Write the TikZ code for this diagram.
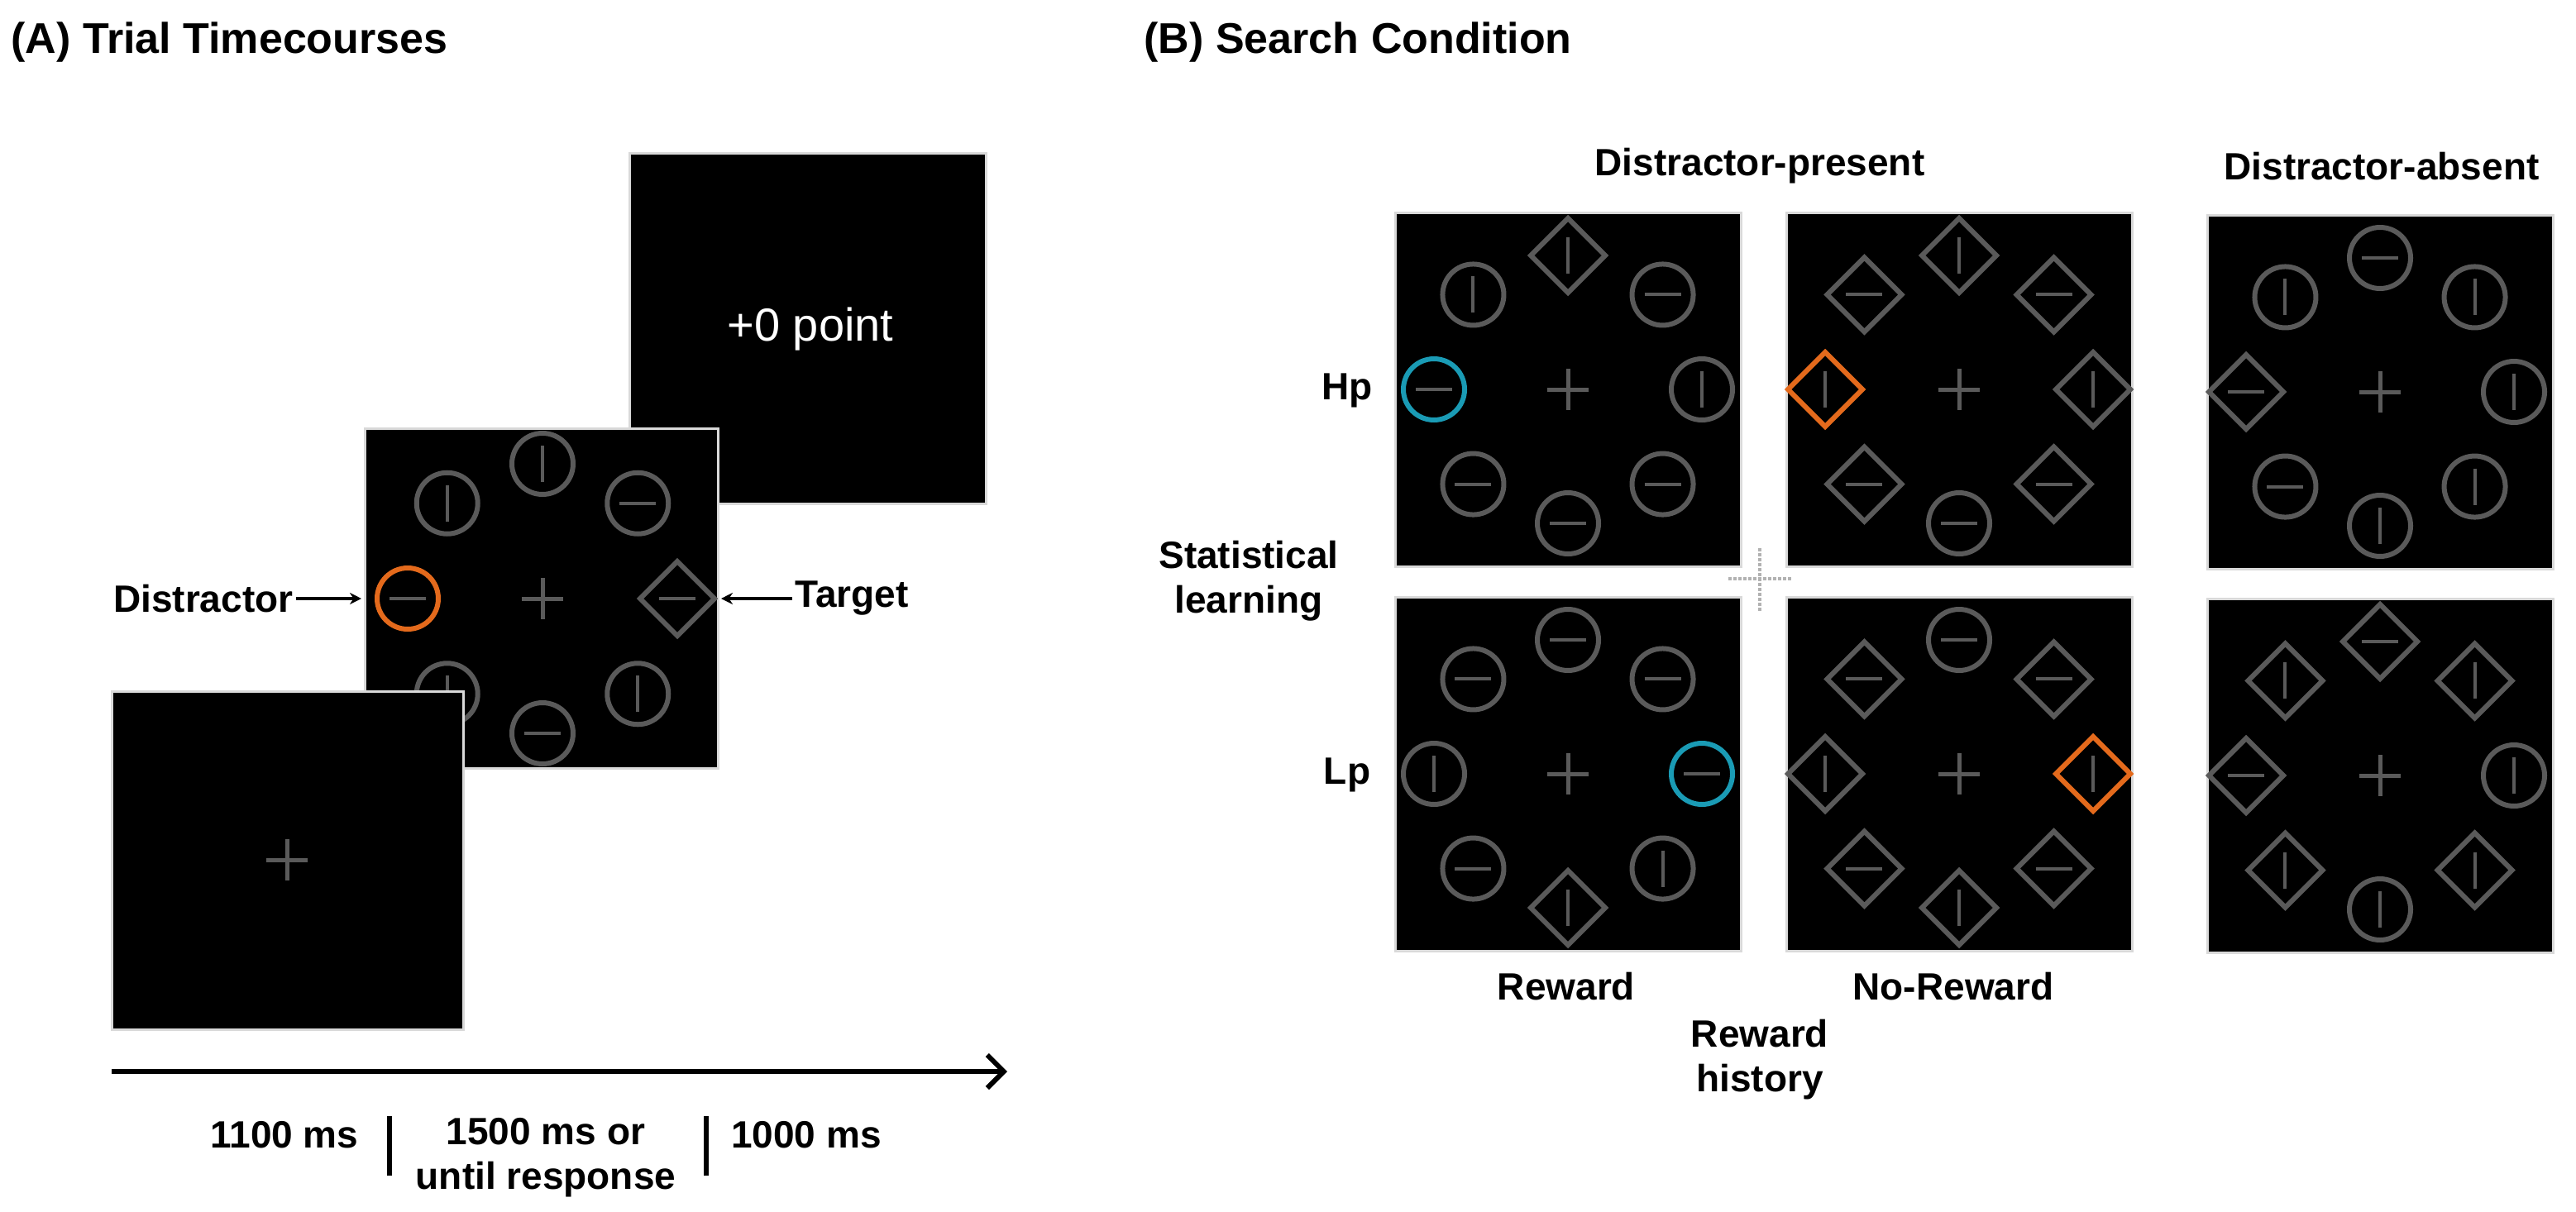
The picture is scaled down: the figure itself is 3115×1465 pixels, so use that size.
\documentclass[tikz,border=0pt]{standalone}
\usepackage{fontspec}
\setmainfont{Liberation Sans}
\usetikzlibrary{arrows.meta}
\definecolor{stimgray}{HTML}{5A5A5A}
\definecolor{dorange}{HTML}{E46A1C}
\definecolor{dcyan}{HTML}{1A9BB5}
\tikzset{
  screen/.style={fill=black,draw=white!85!black,line width=3pt},
  stim/.style={line width=6pt},
  lab/.style={font=\fontsize{46}{54}\selectfont\bfseries,text=black},
  ttl/.style={font=\fontsize{52}{60}\selectfont\bfseries,anchor=west},
  fix/.style={stimgray,line width=5pt},
  axis/.style={line width=6pt,-{Straight Barb[length=20pt,width=40pt,line width=6pt]}},
  tick/.style={line width=6pt},
  pointer/.style={line width=4pt,-{Stealth[length=14pt,width=14pt]}}
}
% #1 radius, #2 cx, #3 cy, #4 list of shape/orient/colour in order T,TR,R,BR,B,BL,L,TL
\newcommand\stimpanel[4][162]{%
  \draw[fix] (#2-25,#3)--(#2+25,#3) (#2,#3-25)--(#2,#3+25);
  \foreach \s/\o/\c [count=\i from 0] in {#4}{
    \pgfmathsetmacro\ang{90-45*\i}
    \pgfmathsetmacro\px{#2+#1*cos(\ang)}
    \pgfmathsetmacro\py{#3-#1*sin(\ang)}
    \if c\s
      \draw[stim,\c] (\px,\py) circle (37);
    \else
      \draw[stim,\c] (\px-45,\py)--(\px,\py-45)--(\px+45,\py)--(\px,\py+45)--cycle;
    \fi
    \if h\o
      \draw[stimgray,line width=4pt] (\px-22,\py)--(\px+22,\py);
    \else
      \draw[stimgray,line width=4pt] (\px,\py-22)--(\px,\py+22);
    \fi
  }%
}
\begin{document}
\begin{tikzpicture}[x=1pt,y=-1pt]
\useasboundingbox (0,0) rectangle (3115,1465);
% ---------- (A)
\node[ttl] (ta) at (10,51) {(A) Trial Timecourses};
\draw[screen] (761,185) rectangle (1192,609);
\node[text=white,font=\fontsize{56}{64}\selectfont] (pt) at (980,398) {+0 point};
\draw[screen] (441,518) rectangle (868,929);
\stimpanel[163]{656}{724}{c/v/stimgray,c/h/stimgray,d/h/stimgray,c/v/stimgray,c/h/stimgray,c/v/stimgray,c/h/dorange,c/v/stimgray}
\coordinate (dist) at (437,724);
\coordinate (targ) at (872,724);
\draw[screen] (135,836) rectangle (560,1245);
\draw[fix] (322,1040)--(372,1040) (347,1015)--(347,1065);
\node[lab,anchor=east] (dl) at (358,724) {Distractor};
\node[lab,anchor=west] (tl) at (958,724) {Target};
\draw[pointer] (dl.east) -- (dist);
\draw[pointer] (tl.west) -- (targ);
\coordinate (ax0) at (135,1296);
\coordinate (ax1) at (1218,1296);
\draw[axis] (ax0) -- (ax1);
\node[lab] (t1) at (344,1373) {1100 ms};
\node[lab,align=center] (t2) at (660,1400) {1500 ms or\\until response};
\node[lab] (t3) at (975,1373) {1000 ms};
\draw[tick] (471,1350) -- (471,1422);
\draw[tick] (854,1350) -- (854,1422);
% ---------- (B)
\node[ttl] (tb) at (1380,51) {(B) Search Condition};
\node[lab] (dp) at (2128,201) {Distractor-present};
\node[lab] (da) at (2880,201) {Distractor-absent};
\foreach \x/\y in {1687/257,2160/257,2669/260,1687/722,2160/722,2669/724}{
  \draw[screen] (\x,\y) rectangle ++(418,428);
}
\stimpanel{1896}{471}{d/v/stimgray,c/h/stimgray,c/v/stimgray,c/h/stimgray,c/h/stimgray,c/h/stimgray,c/h/dcyan,c/v/stimgray}
\stimpanel{2369}{471}{d/v/stimgray,d/h/stimgray,d/v/stimgray,d/h/stimgray,c/h/stimgray,d/h/stimgray,d/v/dorange,d/h/stimgray}
\stimpanel{2878}{474}{c/h/stimgray,c/v/stimgray,c/v/stimgray,c/v/stimgray,c/v/stimgray,c/h/stimgray,d/h/stimgray,c/v/stimgray}
\stimpanel{1896}{936}{c/h/stimgray,c/h/stimgray,c/h/dcyan,c/v/stimgray,d/v/stimgray,c/h/stimgray,c/v/stimgray,c/h/stimgray}
\stimpanel{2369}{936}{c/h/stimgray,d/h/stimgray,d/v/dorange,d/h/stimgray,d/v/stimgray,d/h/stimgray,d/v/stimgray,d/h/stimgray}
\stimpanel{2878}{938}{d/h/stimgray,d/v/stimgray,c/v/stimgray,d/v/stimgray,c/v/stimgray,d/v/stimgray,d/h/stimgray,d/v/stimgray}
\node[lab] (hp) at (1629,472) {Hp};
\node[lab] (lp) at (1629,937) {Lp};
\node[lab,align=center] (sl) at (1510,703) {Statistical\\learning};
\node[lab] (rw) at (1894,1193) {Reward};
\node[lab] (nr) at (2362,1193) {No-Reward};
\node[lab,align=center] (rh) at (2128,1282) {Reward\\history};
\draw[gray!60,line width=4pt,dotted] (2128,663)--(2128,740) (2090,700)--(2166,700);
\end{tikzpicture}
\end{document}
